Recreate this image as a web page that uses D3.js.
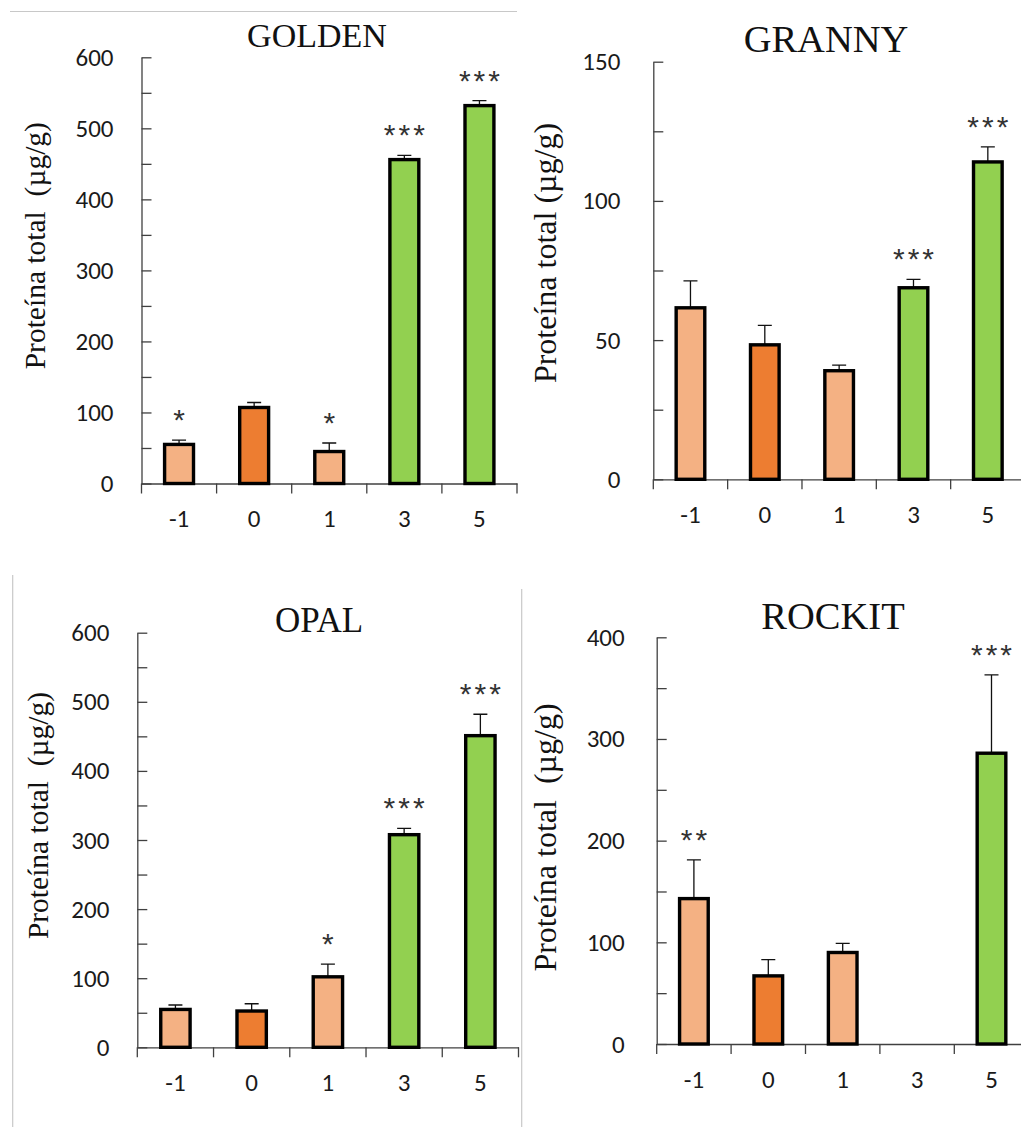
<!DOCTYPE html>
<html>
<head>
<meta charset="utf-8">
<script src="https://cdn.jsdelivr.net/npm/d3@7"></script>
<style>
  html, body { margin: 0; padding: 0; background: #fff; }
  svg { display: block; }
</style>
</head>
<body>
<svg id="chart" width="1021" height="1127"></svg>
<script>
// ---------------- DATA ----------------
const categories = ["-1", "0", "1", "3", "5"];
const groups = ["pre", "ref", "pre", "post", "post"];

const goldenMeans = [55, 107, 45, 456, 532];
const goldenErr   = [6, 7, 12, 6, 7];
const goldenSig   = ["*", "", "*", "***", "***"];
const goldenTicks = [0, 100, 200, 300, 400, 500, 600];

const grannyMeans = [61.6, 48.3, 39, 68.8, 114];
const grannyErr   = [9.7, 7, 2, 3, 5.4];
const grannySig   = ["", "", "", "***", "***"];
const grannyTicks = [0, 50, 100, 150];

const opalMeans = [54.8, 52.5, 102, 307.7, 451];
const opalErr   = [6.4, 10.5, 18.5, 9, 31];
const opalSig   = ["", "", "*", "***", "***"];
const opalTicks = [0, 100, 200, 300, 400, 500, 600];

const rockitMeans = [143, 67, 90, 0, 286];
const rockitErr   = [38, 16, 9, 0, 77];
const rockitSig   = ["**", "", "", "", "***"];
const rockitTicks = [0, 100, 200, 300, 400];

const yLabelDouble = "Proteína total\u00A0 (µg/g)";
const yLabelSingle = "Proteína total (µg/g)";

// ---------------- STYLE / LAYOUT ----------------
const colors = { pre: "#F4B183", ref: "#ED7D31", post: "#92D050" };
const tickFont = "Carlito, Lato, 'Open Sans', sans-serif";
const serifFont = "Liberation Serif";

const panels = [
  { title: "GOLDEN", means: goldenMeans, err: goldenErr, sig: goldenSig, ticks: goldenTicks,
    x0: 141.5, x1: 517, yTopPx: 57.3, yZeroPx: 483.5,
    titleX: 317, titleY: 46.7, titleSize: 34,
    ylab: yLabelDouble, ylabX: 36, ylabY: 245.7, ylabSize: 29.5, tickPad: 28 },
  { title: "GRANNY", means: grannyMeans, err: grannyErr, sig: grannySig, ticks: grannyTicks,
    x0: 653.3, x1: 1025, yTopPx: 61.7, yZeroPx: 479.3,
    titleX: 826, titleY: 51.7, titleSize: 38.5,
    ylab: yLabelSingle, ylabX: 546, ylabY: 253, ylabSize: 32, tickPad: 33 },
  { title: "OPAL", means: opalMeans, err: opalErr, sig: opalSig, ticks: opalTicks,
    x0: 137.3, x1: 518.5, yTopPx: 632.7, yZeroPx: 1047.3,
    titleX: 319, titleY: 631.7, titleSize: 35,
    ylab: yLabelDouble, ylabX: 39, ylabY: 815.5, ylabSize: 29.5, tickPad: 28 },
  { title: "ROCKIT", means: rockitMeans, err: rockitErr, sig: rockitSig, ticks: rockitTicks,
    x0: 656.7, x1: 1028.7, yTopPx: 637.3, yZeroPx: 1044,
    titleX: 833, titleY: 629.3, titleSize: 38.5,
    ylab: yLabelDouble, ylabX: 546.7, ylabY: 837.5, ylabSize: 32, tickPad: 32 }
];

const svg = d3.select("#chart");
svg.append("rect").attr("width", 1021).attr("height", 1127).attr("fill", "#fff");

// separator lines (from the screenshot composition)
svg.append("line").attr("x1", 10).attr("x2", 517).attr("y1", 11.5).attr("y2", 11.5)
  .attr("stroke", "#c8c8c8").attr("stroke-width", 1.2);
svg.append("line").attr("x1", 12.7).attr("x2", 12.7).attr("y1", 575).attr("y2", 1127)
  .attr("stroke", "#c8c8c8").attr("stroke-width", 1.2);
svg.append("line").attr("x1", 521.7).attr("x2", 521.7).attr("y1", 589).attr("y2", 1127)
  .attr("stroke", "#c8c8c8").attr("stroke-width", 1.2);

panels.forEach(p => {
  const g = svg.append("g");
  const maxV = p.ticks[p.ticks.length - 1];
  const step = p.ticks[1] - p.ticks[0];
  const y = d3.scaleLinear().domain([0, maxV]).range([p.yZeroPx, p.yTopPx]);
  const x = d3.scaleBand().domain(categories).range([p.x0, p.x1]).paddingInner(0).paddingOuter(0);

  // y axis: major + minor ticks pointing inward
  const allTicks = d3.range(0, maxV + step / 4, step / 2);
  const yAxis = d3.axisLeft(y)
    .tickValues(allTicks)
    .tickSizeInner(-10).tickSizeOuter(0)
    .tickPadding(p.tickPad)
    .tickFormat(v => p.ticks.includes(v) ? String(v) : "");
  const ya = g.append("g").attr("transform", `translate(${p.x0},0)`).call(yAxis);
  ya.select(".domain").attr("stroke", "#404040").attr("stroke-width", 1.3);
  ya.selectAll(".tick line").attr("stroke", "#404040").attr("stroke-width", 1.3);
  ya.selectAll(".tick text").attr("font-family", tickFont).attr("font-size", 25).attr("fill", "#1a1a1a");

  // x axis labels (band centers)
  const xAxis = d3.axisBottom(x).tickSize(0).tickSizeOuter(0).tickPadding(26);
  const xa = g.append("g").attr("transform", `translate(0,${p.yZeroPx})`).call(xAxis);
  xa.select(".domain").attr("stroke", "#404040").attr("stroke-width", 1.3);
  xa.selectAll(".tick text").attr("font-family", tickFont).attr("font-size", 25).attr("fill", "#1a1a1a");

  // x boundary ticks
  const bounds = categories.map(c => x(c)).concat([x(categories[categories.length - 1]) + x.bandwidth()]);
  g.selectAll(".bt").data(bounds).enter().append("line")
    .attr("x1", d => d).attr("x2", d => d)
    .attr("y1", p.yZeroPx).attr("y2", p.yZeroPx + 10)
    .attr("stroke", "#404040").attr("stroke-width", 1.3);

  const barW = x.bandwidth() * 0.385;
  const data = categories.map((c, i) => ({ c, v: p.means[i], e: p.err[i], s: p.sig[i], grp: groups[i] }))
    .filter(d => d.v > 0);

  // error bars (upper only)
  const capW = 14;
  g.selectAll(".err").data(data).enter().append("path")
    .attr("d", d => {
      const cx = x(d.c) + x.bandwidth() / 2;
      const y1 = y(d.v), y2 = y(d.v + d.e);
      return `M${cx},${y1}V${y2}M${cx - capW / 2},${y2}H${cx + capW / 2}`;
    })
    .attr("fill", "none").attr("stroke", "#111").attr("stroke-width", 1.3);

  // bars
  g.selectAll(".bar").data(data).enter().append("rect")
    .attr("x", d => x(d.c) + (x.bandwidth() - barW) / 2)
    .attr("width", barW)
    .attr("y", d => y(d.v))
    .attr("height", d => p.yZeroPx - y(d.v))
    .attr("fill", d => colors[d.grp])
    .attr("stroke", "#000").attr("stroke-width", 3.4);

  // significance stars
  g.selectAll(".sig").data(data.filter(d => d.s)).enter().append("text")
    .attr("x", d => x(d.c) + x.bandwidth() / 2 + 1.5)
    .attr("y", d => y(d.v + d.e) - 10)
    .attr("text-anchor", "middle")
    .attr("font-family", "'Liberation Sans', Arial, sans-serif")
    .attr("font-size", 30)
    .attr("letter-spacing", 3)
    .attr("fill", "#333")
    .text(d => d.s);

  // title
  g.append("text").attr("x", p.titleX).attr("y", p.titleY)
    .attr("text-anchor", "middle")
    .attr("font-family", serifFont)
    .attr("font-size", p.titleSize).attr("fill", "#111")
    .text(p.title);

  // y label
  g.append("text")
    .attr("transform", `translate(${p.ylabX},${p.ylabY}) rotate(-90)`)
    .attr("x", 0).attr("y", p.ylabSize * 0.3)
    .attr("text-anchor", "middle")
    .attr("font-family", serifFont)
    .attr("font-size", p.ylabSize).attr("fill", "#111")
    .text(p.ylab);
});
</script>
</body>
</html>
